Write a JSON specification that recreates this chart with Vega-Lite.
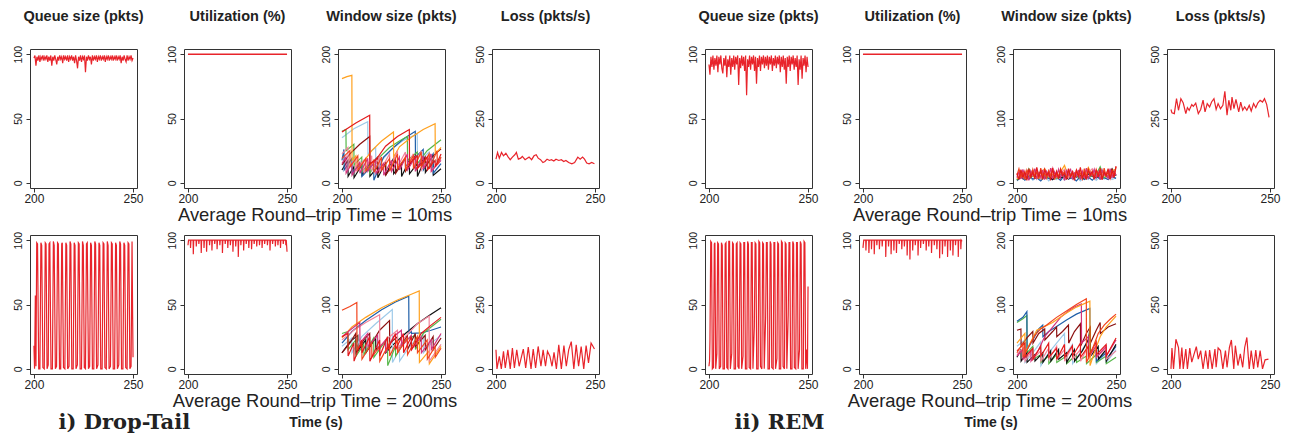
{
"$schema": "https://vega.github.io/schema/vega-lite/v6.json",
"background": "white",
"padding": {"left": 12, "top": 8, "right": 5, "bottom": 2},
"config": {
 "view": {"stroke": "#333", "strokeWidth": 1},
 "axis": {"domain": false, "grid": false, "tickSize": 4, "tickColor": "#333", "labelFont": "Liberation Sans", "labelColor": "#222", "labelFlush": false, "labelOverlap": false},
 "axisY": {"labelAngle": -90, "labelAlign": "center", "labelBaseline": "bottom", "labelPadding": 3, "labelFontSize": 10.5},
 "axisX": {"labelPadding": 1, "labelFontSize": 12},
 "title": {"font": "Liberation Sans", "fontSize": 14.5, "fontWeight": "bold", "color": "#222", "anchor": "middle"},
 "line": {"strokeWidth": 1.2, "clip": true}
},
"datasets": {
 "dt10q": [{"t":200,"v":97},{"t":200.5,"v":99},{"t":201,"v":91},{"t":201.5,"v":98},{"t":202,"v":95},{"t":202.5,"v":99},{"t":203,"v":94},{"t":203.5,"v":98},{"t":204,"v":96},{"t":204.5,"v":99},{"t":205,"v":95},{"t":205.5,"v":98},{"t":206,"v":96},{"t":206.5,"v":99},{"t":207,"v":94},{"t":207.5,"v":98},{"t":208,"v":95},{"t":208.5,"v":99},{"t":209,"v":91},{"t":209.5,"v":98},{"t":210,"v":95},{"t":210.5,"v":99},{"t":211,"v":96},{"t":211.5,"v":92},{"t":212,"v":98},{"t":212.5,"v":95},{"t":213,"v":99},{"t":213.5,"v":96},{"t":214,"v":98},{"t":214.5,"v":93},{"t":215,"v":99},{"t":215.5,"v":96},{"t":216,"v":98},{"t":216.5,"v":95},{"t":217,"v":99},{"t":217.5,"v":94},{"t":218,"v":98},{"t":218.5,"v":96},{"t":219,"v":99},{"t":219.5,"v":95},{"t":220,"v":98},{"t":220.5,"v":93},{"t":221,"v":99},{"t":221.5,"v":95},{"t":222,"v":89},{"t":222.5,"v":98},{"t":223,"v":95},{"t":223.5,"v":99},{"t":224,"v":94},{"t":224.5,"v":98},{"t":225,"v":96},{"t":225.5,"v":99},{"t":226,"v":86},{"t":226.5,"v":98},{"t":227,"v":95},{"t":227.5,"v":99},{"t":228,"v":96},{"t":228.5,"v":98},{"t":229,"v":92},{"t":229.5,"v":99},{"t":230,"v":95},{"t":230.5,"v":98},{"t":231,"v":96},{"t":231.5,"v":99},{"t":232,"v":94},{"t":232.5,"v":98},{"t":233,"v":96},{"t":233.5,"v":99},{"t":234,"v":95},{"t":234.5,"v":98},{"t":235,"v":96},{"t":235.5,"v":99},{"t":236,"v":94},{"t":236.5,"v":98},{"t":237,"v":96},{"t":237.5,"v":99},{"t":238,"v":95},{"t":238.5,"v":98},{"t":239,"v":96},{"t":239.5,"v":99},{"t":240,"v":95},{"t":240.5,"v":98},{"t":241,"v":96},{"t":241.5,"v":99},{"t":242,"v":95},{"t":242.5,"v":98},{"t":243,"v":96},{"t":243.5,"v":99},{"t":244,"v":93},{"t":244.5,"v":98},{"t":245,"v":95},{"t":245.5,"v":99},{"t":246,"v":96},{"t":246.5,"v":94},{"t":247,"v":99},{"t":247.5,"v":95},{"t":248,"v":98},{"t":248.5,"v":96},{"t":249,"v":99},{"t":249.5,"v":95},{"t":250,"v":97}],
 "dt10u": [{"t":200,"v":100},{"t":225,"v":100},{"t":250,"v":100}],
 "dt10l": [{"t":200,"v":92},{"t":200.8,"v":118},{"t":201.7,"v":96},{"t":202.8,"v":118},{"t":203.8,"v":105},{"t":205,"v":115},{"t":206.2,"v":100},{"t":207.2,"v":90},{"t":208.3,"v":100},{"t":209.5,"v":109},{"t":210.3,"v":118},{"t":211.3,"v":92},{"t":212.5,"v":96},{"t":213.3,"v":103},{"t":214.7,"v":90},{"t":215.8,"v":96},{"t":216.7,"v":100},{"t":218,"v":90},{"t":219.2,"v":105},{"t":220.3,"v":109},{"t":221.3,"v":96},{"t":222.5,"v":90},{"t":223.7,"v":79},{"t":224.7,"v":83},{"t":225.8,"v":92},{"t":227,"v":87},{"t":228,"v":90},{"t":229.2,"v":85},{"t":230.3,"v":92},{"t":231.7,"v":87},{"t":233,"v":90},{"t":234.2,"v":83},{"t":235.3,"v":87},{"t":236.7,"v":79},{"t":238.3,"v":74},{"t":239.7,"v":79},{"t":241.3,"v":100},{"t":242.5,"v":92},{"t":243.7,"v":100},{"t":244.7,"v":92},{"t":245.8,"v":77},{"t":247,"v":74},{"t":248.3,"v":79},{"t":249.7,"v":74}],
 "dt10w": [
  {"f":"f7","t":200,"v":20},{"f":"f7","t":203,"v":35},{"f":"f7","t":203.1,"v":10},{"f":"f7","t":206,"v":25},{"f":"f7","t":206.1,"v":8},{"f":"f7","t":210,"v":28},{"f":"f7","t":210.1,"v":12},{"f":"f7","t":214,"v":30},{"f":"f7","t":214.1,"v":10},{"f":"f7","t":218,"v":25},{"f":"f7","t":218.1,"v":8},{"f":"f7","t":222,"v":32},{"f":"f7","t":222.1,"v":12},{"f":"f7","t":226,"v":38},{"f":"f7","t":226.1,"v":14},{"f":"f7","t":230,"v":30},{"f":"f7","t":230.1,"v":10},{"f":"f7","t":234,"v":35},{"f":"f7","t":234.1,"v":14},{"f":"f7","t":238,"v":30},{"f":"f7","t":238.1,"v":10},{"f":"f7","t":242,"v":38},{"f":"f7","t":242.1,"v":16},{"f":"f7","t":246,"v":35},{"f":"f7","t":246.1,"v":12},{"f":"f7","t":250,"v":22},
  {"f":"f3","t":200,"v":70},{"f":"f3","t":206,"v":84},{"f":"f3","t":213,"v":95},{"f":"f3","t":213.1,"v":45},{"f":"f3","t":217,"v":55},{"f":"f3","t":217.1,"v":25},{"f":"f3","t":221,"v":38},{"f":"f3","t":225,"v":52},{"f":"f3","t":231,"v":66},{"f":"f3","t":238,"v":76},{"f":"f3","t":238.1,"v":30},{"f":"f3","t":244,"v":48},{"f":"f3","t":244.1,"v":25},{"f":"f3","t":250,"v":40},
  {"f":"f4","t":200,"v":35},{"f":"f4","t":201,"v":52},{"f":"f4","t":201.1,"v":20},{"f":"f4","t":205,"v":38},{"f":"f4","t":205.1,"v":15},{"f":"f4","t":210,"v":32},{"f":"f4","t":210.1,"v":10},{"f":"f4","t":216,"v":30},{"f":"f4","t":216.1,"v":4},{"f":"f4","t":221,"v":40},{"f":"f4","t":226,"v":55},{"f":"f4","t":231,"v":68},{"f":"f4","t":237,"v":80},{"f":"f4","t":237.1,"v":40},{"f":"f4","t":241,"v":52},{"f":"f4","t":241.1,"v":20},{"f":"f4","t":246,"v":45},{"f":"f4","t":246.1,"v":15},{"f":"f4","t":250,"v":30},
  {"f":"f5","t":200,"v":80},{"f":"f5","t":202,"v":83},{"f":"f5","t":202.1,"v":50},{"f":"f5","t":206,"v":60},{"f":"f5","t":206.1,"v":28},{"f":"f5","t":210,"v":40},{"f":"f5","t":210.1,"v":18},{"f":"f5","t":214,"v":30},{"f":"f5","t":214.1,"v":15},{"f":"f5","t":219,"v":40},{"f":"f5","t":224,"v":55},{"f":"f5","t":229,"v":65},{"f":"f5","t":233,"v":72},{"f":"f5","t":233.1,"v":35},{"f":"f5","t":238,"v":48},{"f":"f5","t":238.1,"v":30},{"f":"f5","t":243,"v":50},{"f":"f5","t":250,"v":67},
  {"f":"f6","t":200,"v":28},{"f":"f6","t":204,"v":45},{"f":"f6","t":209,"v":60},{"f":"f6","t":214,"v":72},{"f":"f6","t":214.1,"v":28},{"f":"f6","t":218,"v":40},{"f":"f6","t":218.1,"v":15},{"f":"f6","t":222,"v":32},{"f":"f6","t":222.1,"v":12},{"f":"f6","t":227,"v":35},{"f":"f6","t":227.1,"v":15},{"f":"f6","t":232,"v":38},{"f":"f6","t":232.1,"v":18},{"f":"f6","t":237,"v":42},{"f":"f6","t":237.1,"v":20},{"f":"f6","t":242,"v":40},{"f":"f6","t":242.1,"v":25},{"f":"f6","t":246,"v":42},{"f":"f6","t":250,"v":53},
  {"f":"f1","t":200,"v":162},{"f":"f1","t":202.5,"v":165},{"f":"f1","t":205,"v":167},{"f":"f1","t":205.1,"v":35},{"f":"f1","t":207,"v":42},{"f":"f1","t":207.1,"v":25},{"f":"f1","t":211,"v":33},{"f":"f1","t":215,"v":50},{"f":"f1","t":220,"v":65},{"f":"f1","t":226,"v":79},{"f":"f1","t":226.1,"v":40},{"f":"f1","t":229,"v":56},{"f":"f1","t":235,"v":71},{"f":"f1","t":241,"v":83},{"f":"f1","t":247,"v":92},{"f":"f1","t":247.1,"v":45},{"f":"f1","t":250,"v":55},
  {"f":"f8","t":200,"v":45},{"f":"f8","t":203,"v":55},{"f":"f8","t":203.1,"v":22},{"f":"f8","t":207,"v":38},{"f":"f8","t":207.1,"v":18},{"f":"f8","t":211,"v":35},{"f":"f8","t":211.1,"v":15},{"f":"f8","t":215,"v":42},{"f":"f8","t":215.1,"v":20},{"f":"f8","t":219,"v":40},{"f":"f8","t":219.1,"v":18},{"f":"f8","t":224,"v":45},{"f":"f8","t":224.1,"v":22},{"f":"f8","t":228,"v":50},{"f":"f8","t":228.1,"v":25},{"f":"f8","t":232,"v":48},{"f":"f8","t":232.1,"v":22},{"f":"f8","t":236,"v":45},{"f":"f8","t":236.1,"v":25},{"f":"f8","t":240,"v":50},{"f":"f8","t":240.1,"v":20},{"f":"f8","t":245,"v":42},{"f":"f8","t":245.1,"v":18},{"f":"f8","t":250,"v":38},
  {"f":"f9","t":200,"v":30},{"f":"f9","t":202,"v":40},{"f":"f9","t":202.1,"v":15},{"f":"f9","t":205,"v":30},{"f":"f9","t":205.1,"v":12},{"f":"f9","t":209,"v":32},{"f":"f9","t":209.1,"v":15},{"f":"f9","t":213,"v":38},{"f":"f9","t":213.1,"v":18},{"f":"f9","t":217,"v":35},{"f":"f9","t":217.1,"v":15},{"f":"f9","t":221,"v":30},{"f":"f9","t":221.1,"v":12},{"f":"f9","t":225,"v":35},{"f":"f9","t":225.1,"v":18},{"f":"f9","t":229,"v":40},{"f":"f9","t":229.1,"v":20},{"f":"f9","t":233,"v":45},{"f":"f9","t":233.1,"v":20},{"f":"f9","t":237,"v":40},{"f":"f9","t":237.1,"v":18},{"f":"f9","t":241,"v":42},{"f":"f9","t":241.1,"v":22},{"f":"f9","t":245,"v":45},{"f":"f9","t":245.1,"v":18},{"f":"f9","t":250,"v":35},
  {"f":"f10","t":200,"v":38},{"f":"f10","t":204,"v":50},{"f":"f10","t":204.1,"v":25},{"f":"f10","t":208,"v":42},{"f":"f10","t":208.1,"v":20},{"f":"f10","t":212,"v":38},{"f":"f10","t":212.1,"v":18},{"f":"f10","t":216,"v":35},{"f":"f10","t":216.1,"v":16},{"f":"f10","t":220,"v":40},{"f":"f10","t":220.1,"v":20},{"f":"f10","t":224,"v":38},{"f":"f10","t":224.1,"v":18},{"f":"f10","t":228,"v":45},{"f":"f10","t":228.1,"v":22},{"f":"f10","t":232,"v":40},{"f":"f10","t":232.1,"v":20},{"f":"f10","t":236,"v":42},{"f":"f10","t":236.1,"v":22},{"f":"f10","t":240,"v":48},{"f":"f10","t":240.1,"v":25},{"f":"f10","t":244,"v":45},{"f":"f10","t":244.1,"v":22},{"f":"f10","t":248,"v":50},{"f":"f10","t":248.1,"v":28},{"f":"f10","t":250,"v":40},
  {"f":"f2","t":200,"v":79},{"f":"f2","t":207,"v":93},{"f":"f2","t":214,"v":105},{"f":"f2","t":214.1,"v":30},{"f":"f2","t":217,"v":35},{"f":"f2","t":222,"v":57},{"f":"f2","t":228,"v":72},{"f":"f2","t":234,"v":83},{"f":"f2","t":234.1,"v":30},{"f":"f2","t":238,"v":42},{"f":"f2","t":238.1,"v":22},{"f":"f2","t":243,"v":40},{"f":"f2","t":243.1,"v":20},{"f":"f2","t":247,"v":35},{"f":"f2","t":247.1,"v":25},{"f":"f2","t":250,"v":45}
 ],
 "rem10q": [{"t":200,"v":92},{"t":200.5,"v":84},{"t":201,"v":98},{"t":201.5,"v":90},{"t":202,"v":99},{"t":202.5,"v":88},{"t":203,"v":97},{"t":203.5,"v":91},{"t":204,"v":99},{"t":204.5,"v":86},{"t":205,"v":98},{"t":205.5,"v":92},{"t":206,"v":99},{"t":206.5,"v":89},{"t":207,"v":85},{"t":207.5,"v":97},{"t":208,"v":91},{"t":208.5,"v":99},{"t":209,"v":82},{"t":209.5,"v":96},{"t":210,"v":90},{"t":210.5,"v":99},{"t":211,"v":84},{"t":211.5,"v":97},{"t":212,"v":90},{"t":212.5,"v":99},{"t":213,"v":88},{"t":213.5,"v":98},{"t":214,"v":92},{"t":214.5,"v":99},{"t":215,"v":76},{"t":215.5,"v":97},{"t":216,"v":89},{"t":216.5,"v":99},{"t":217,"v":91},{"t":217.5,"v":98},{"t":218,"v":87},{"t":218.5,"v":99},{"t":219,"v":68},{"t":219.5,"v":96},{"t":220,"v":90},{"t":220.5,"v":99},{"t":221,"v":88},{"t":221.5,"v":98},{"t":222,"v":92},{"t":222.5,"v":99},{"t":223,"v":87},{"t":223.5,"v":98},{"t":224,"v":77},{"t":224.5,"v":97},{"t":225,"v":90},{"t":225.5,"v":99},{"t":226,"v":87},{"t":226.5,"v":98},{"t":227,"v":92},{"t":227.5,"v":99},{"t":228,"v":89},{"t":228.5,"v":98},{"t":229,"v":91},{"t":229.5,"v":99},{"t":230,"v":88},{"t":230.5,"v":98},{"t":231,"v":92},{"t":231.5,"v":99},{"t":232,"v":87},{"t":232.5,"v":97},{"t":233,"v":91},{"t":233.5,"v":99},{"t":234,"v":89},{"t":234.5,"v":98},{"t":235,"v":92},{"t":235.5,"v":99},{"t":236,"v":86},{"t":236.5,"v":98},{"t":237,"v":90},{"t":237.5,"v":99},{"t":238,"v":88},{"t":238.5,"v":97},{"t":239,"v":77},{"t":239.5,"v":98},{"t":240,"v":90},{"t":240.5,"v":99},{"t":241,"v":87},{"t":241.5,"v":98},{"t":242,"v":92},{"t":242.5,"v":99},{"t":243,"v":88},{"t":243.5,"v":97},{"t":244,"v":90},{"t":244.5,"v":99},{"t":245,"v":76},{"t":245.5,"v":96},{"t":246,"v":88},{"t":246.5,"v":99},{"t":247,"v":81},{"t":247.5,"v":97},{"t":248,"v":91},{"t":248.5,"v":99},{"t":249,"v":86},{"t":249.5,"v":98},{"t":250,"v":90}],
 "rem10u": [{"t":200,"v":100},{"t":225,"v":100},{"t":250,"v":100}],
 "rem10l": [{"t":200,"v":285},{"t":200.5,"v":272},{"t":201.7,"v":269},{"t":202.8,"v":327},{"t":203.8,"v":282},{"t":205,"v":327},{"t":206.2,"v":310},{"t":207.5,"v":269},{"t":208.3,"v":292},{"t":209.2,"v":282},{"t":210.5,"v":304},{"t":211.3,"v":297},{"t":212.5,"v":310},{"t":213.8,"v":269},{"t":215,"v":285},{"t":216.2,"v":321},{"t":217.2,"v":276},{"t":218.3,"v":308},{"t":219.5,"v":295},{"t":220.5,"v":314},{"t":221.7,"v":327},{"t":222.8,"v":285},{"t":223.8,"v":308},{"t":225,"v":288},{"t":226.2,"v":301},{"t":227.2,"v":356},{"t":228.3,"v":263},{"t":229.2,"v":321},{"t":230.2,"v":282},{"t":230.8,"v":333},{"t":231.8,"v":288},{"t":232.8,"v":324},{"t":234.2,"v":276},{"t":235.2,"v":314},{"t":236.2,"v":282},{"t":237.2,"v":295},{"t":238.3,"v":282},{"t":239.5,"v":301},{"t":240.5,"v":279},{"t":241.7,"v":308},{"t":242.8,"v":292},{"t":243.8,"v":310},{"t":245,"v":321},{"t":246.2,"v":314},{"t":247.2,"v":327},{"t":248.3,"v":305},{"t":249.5,"v":254}],
 "rem10w": [
  {"f":"f3","t":200,"v":3},{"f":"f3","t":202,"v":8},{"f":"f3","t":204,"v":5},{"f":"f3","t":206,"v":10},{"f":"f3","t":208,"v":4},{"f":"f3","t":210,"v":9},{"f":"f3","t":212,"v":6},{"f":"f3","t":214,"v":12},{"f":"f3","t":216,"v":3},{"f":"f3","t":218,"v":8},{"f":"f3","t":220,"v":5},{"f":"f3","t":222,"v":11},{"f":"f3","t":224,"v":4},{"f":"f3","t":226,"v":9},{"f":"f3","t":228,"v":6},{"f":"f3","t":230,"v":10},{"f":"f3","t":232,"v":3},{"f":"f3","t":234,"v":8},{"f":"f3","t":236,"v":5},{"f":"f3","t":238,"v":12},{"f":"f3","t":240,"v":4},{"f":"f3","t":242,"v":9},{"f":"f3","t":244,"v":6},{"f":"f3","t":246,"v":10},{"f":"f3","t":248,"v":5},{"f":"f3","t":250,"v":8},
  {"f":"f4","t":200,"v":5},{"f":"f4","t":202,"v":9},{"f":"f4","t":204,"v":4},{"f":"f4","t":206,"v":11},{"f":"f4","t":208,"v":6},{"f":"f4","t":210,"v":8},{"f":"f4","t":212,"v":3},{"f":"f4","t":214,"v":10},{"f":"f4","t":216,"v":7},{"f":"f4","t":218,"v":5},{"f":"f4","t":220,"v":9},{"f":"f4","t":222,"v":4},{"f":"f4","t":224,"v":12},{"f":"f4","t":226,"v":6},{"f":"f4","t":228,"v":8},{"f":"f4","t":230,"v":3},{"f":"f4","t":232,"v":10},{"f":"f4","t":234,"v":5},{"f":"f4","t":236,"v":9},{"f":"f4","t":238,"v":4},{"f":"f4","t":240,"v":11},{"f":"f4","t":242,"v":6},{"f":"f4","t":244,"v":8},{"f":"f4","t":246,"v":5},{"f":"f4","t":248,"v":10},{"f":"f4","t":250,"v":7},
  {"f":"f7","t":200,"v":4},{"f":"f7","t":202,"v":10},{"f":"f7","t":204,"v":14},{"f":"f7","t":206,"v":6},{"f":"f7","t":208,"v":12},{"f":"f7","t":210,"v":9},{"f":"f7","t":212,"v":18},{"f":"f7","t":214,"v":7},{"f":"f7","t":216,"v":11},{"f":"f7","t":218,"v":5},{"f":"f7","t":220,"v":13},{"f":"f7","t":222,"v":8},{"f":"f7","t":224,"v":10},{"f":"f7","t":226,"v":6},{"f":"f7","t":228,"v":15},{"f":"f7","t":230,"v":9},{"f":"f7","t":232,"v":12},{"f":"f7","t":234,"v":7},{"f":"f7","t":236,"v":14},{"f":"f7","t":238,"v":10},{"f":"f7","t":240,"v":8},{"f":"f7","t":242,"v":13},{"f":"f7","t":244,"v":16},{"f":"f7","t":246,"v":9},{"f":"f7","t":248,"v":22},{"f":"f7","t":250,"v":11},
  {"f":"f5","t":200,"v":5},{"f":"f5","t":202,"v":12},{"f":"f5","t":204,"v":8},{"f":"f5","t":206,"v":22},{"f":"f5","t":208,"v":10},{"f":"f5","t":210,"v":15},{"f":"f5","t":212,"v":6},{"f":"f5","t":214,"v":11},{"f":"f5","t":216,"v":9},{"f":"f5","t":218,"v":13},{"f":"f5","t":220,"v":7},{"f":"f5","t":222,"v":14},{"f":"f5","t":224,"v":8},{"f":"f5","t":226,"v":18},{"f":"f5","t":228,"v":10},{"f":"f5","t":230,"v":12},{"f":"f5","t":232,"v":6},{"f":"f5","t":234,"v":15},{"f":"f5","t":236,"v":9},{"f":"f5","t":238,"v":11},{"f":"f5","t":240,"v":13},{"f":"f5","t":242,"v":25},{"f":"f5","t":244,"v":8},{"f":"f5","t":246,"v":12},{"f":"f5","t":248,"v":10},{"f":"f5","t":250,"v":14},
  {"f":"f1","t":200,"v":6},{"f":"f1","t":202,"v":14},{"f":"f1","t":204,"v":9},{"f":"f1","t":206,"v":18},{"f":"f1","t":208,"v":11},{"f":"f1","t":210,"v":7},{"f":"f1","t":212,"v":16},{"f":"f1","t":214,"v":22},{"f":"f1","t":216,"v":10},{"f":"f1","t":218,"v":13},{"f":"f1","t":220,"v":8},{"f":"f1","t":222,"v":17},{"f":"f1","t":224,"v":27},{"f":"f1","t":226,"v":9},{"f":"f1","t":228,"v":14},{"f":"f1","t":230,"v":11},{"f":"f1","t":232,"v":19},{"f":"f1","t":234,"v":8},{"f":"f1","t":236,"v":24},{"f":"f1","t":238,"v":12},{"f":"f1","t":240,"v":9},{"f":"f1","t":242,"v":16},{"f":"f1","t":244,"v":13},{"f":"f1","t":246,"v":10},{"f":"f1","t":248,"v":18},{"f":"f1","t":250,"v":22},
  {"f":"f8","t":200,"v":10},{"f":"f8","t":202,"v":20},{"f":"f8","t":204,"v":8},{"f":"f8","t":206,"v":17},{"f":"f8","t":208,"v":12},{"f":"f8","t":210,"v":22},{"f":"f8","t":212,"v":6},{"f":"f8","t":214,"v":19},{"f":"f8","t":216,"v":11},{"f":"f8","t":218,"v":24},{"f":"f8","t":220,"v":9},{"f":"f8","t":222,"v":15},{"f":"f8","t":224,"v":21},{"f":"f8","t":226,"v":7},{"f":"f8","t":228,"v":18},{"f":"f8","t":230,"v":13},{"f":"f8","t":232,"v":20},{"f":"f8","t":234,"v":8},{"f":"f8","t":236,"v":16},{"f":"f8","t":238,"v":22},{"f":"f8","t":240,"v":10},{"f":"f8","t":242,"v":17},{"f":"f8","t":244,"v":12},{"f":"f8","t":246,"v":19},{"f":"f8","t":248,"v":9},{"f":"f8","t":250,"v":14},
  {"f":"f9","t":200,"v":8},{"f":"f9","t":201,"v":18},{"f":"f9","t":202,"v":6},{"f":"f9","t":203,"v":21},{"f":"f9","t":204,"v":10},{"f":"f9","t":205,"v":16},{"f":"f9","t":206,"v":4},{"f":"f9","t":207,"v":19},{"f":"f9","t":208,"v":12},{"f":"f9","t":209,"v":22},{"f":"f9","t":210,"v":7},{"f":"f9","t":211,"v":15},{"f":"f9","t":212,"v":9},{"f":"f9","t":213,"v":20},{"f":"f9","t":214,"v":5},{"f":"f9","t":215,"v":18},{"f":"f9","t":216,"v":11},{"f":"f9","t":217,"v":23},{"f":"f9","t":218,"v":6},{"f":"f9","t":219,"v":17},{"f":"f9","t":220,"v":10},{"f":"f9","t":221,"v":21},{"f":"f9","t":222,"v":8},{"f":"f9","t":223,"v":16},{"f":"f9","t":224,"v":4},{"f":"f9","t":225,"v":19},{"f":"f9","t":226,"v":12},{"f":"f9","t":227,"v":22},{"f":"f9","t":228,"v":7},{"f":"f9","t":229,"v":15},{"f":"f9","t":230,"v":10},{"f":"f9","t":231,"v":20},{"f":"f9","t":232,"v":5},{"f":"f9","t":233,"v":18},{"f":"f9","t":234,"v":9},{"f":"f9","t":235,"v":23},{"f":"f9","t":236,"v":6},{"f":"f9","t":237,"v":16},{"f":"f9","t":238,"v":11},{"f":"f9","t":239,"v":21},{"f":"f9","t":240,"v":8},{"f":"f9","t":241,"v":17},{"f":"f9","t":242,"v":5},{"f":"f9","t":243,"v":20},{"f":"f9","t":244,"v":12},{"f":"f9","t":245,"v":15},{"f":"f9","t":246,"v":7},{"f":"f9","t":247,"v":22},{"f":"f9","t":248,"v":9},{"f":"f9","t":249,"v":18},{"f":"f9","t":250,"v":12},
  {"f":"f10","t":200,"v":12},{"f":"f10","t":201,"v":22},{"f":"f10","t":202,"v":9},{"f":"f10","t":203,"v":16},{"f":"f10","t":204,"v":5},{"f":"f10","t":205,"v":20},{"f":"f10","t":206,"v":13},{"f":"f10","t":207,"v":8},{"f":"f10","t":208,"v":21},{"f":"f10","t":209,"v":11},{"f":"f10","t":210,"v":17},{"f":"f10","t":211,"v":6},{"f":"f10","t":212,"v":23},{"f":"f10","t":213,"v":10},{"f":"f10","t":214,"v":15},{"f":"f10","t":215,"v":7},{"f":"f10","t":216,"v":19},{"f":"f10","t":217,"v":12},{"f":"f10","t":218,"v":20},{"f":"f10","t":219,"v":5},{"f":"f10","t":220,"v":16},{"f":"f10","t":221,"v":9},{"f":"f10","t":222,"v":22},{"f":"f10","t":223,"v":13},{"f":"f10","t":224,"v":18},{"f":"f10","t":225,"v":6},{"f":"f10","t":226,"v":21},{"f":"f10","t":227,"v":10},{"f":"f10","t":228,"v":17},{"f":"f10","t":229,"v":8},{"f":"f10","t":230,"v":20},{"f":"f10","t":231,"v":12},{"f":"f10","t":232,"v":15},{"f":"f10","t":233,"v":6},{"f":"f10","t":234,"v":22},{"f":"f10","t":235,"v":9},{"f":"f10","t":236,"v":19},{"f":"f10","t":237,"v":11},{"f":"f10","t":238,"v":16},{"f":"f10","t":239,"v":7},{"f":"f10","t":240,"v":21},{"f":"f10","t":241,"v":13},{"f":"f10","t":242,"v":18},{"f":"f10","t":243,"v":5},{"f":"f10","t":244,"v":23},{"f":"f10","t":245,"v":10},{"f":"f10","t":246,"v":17},{"f":"f10","t":247,"v":7},{"f":"f10","t":248,"v":20},{"f":"f10","t":249,"v":12},{"f":"f10","t":250,"v":25},
  {"f":"f2","t":200,"v":15},{"f":"f2","t":201,"v":5},{"f":"f2","t":202,"v":20},{"f":"f2","t":203,"v":8},{"f":"f2","t":204,"v":18},{"f":"f2","t":205,"v":4},{"f":"f2","t":206,"v":22},{"f":"f2","t":207,"v":10},{"f":"f2","t":208,"v":17},{"f":"f2","t":209,"v":6},{"f":"f2","t":210,"v":24},{"f":"f2","t":211,"v":9},{"f":"f2","t":212,"v":19},{"f":"f2","t":213,"v":5},{"f":"f2","t":214,"v":21},{"f":"f2","t":215,"v":12},{"f":"f2","t":216,"v":16},{"f":"f2","t":217,"v":4},{"f":"f2","t":218,"v":23},{"f":"f2","t":219,"v":8},{"f":"f2","t":220,"v":18},{"f":"f2","t":221,"v":6},{"f":"f2","t":222,"v":20},{"f":"f2","t":223,"v":11},{"f":"f2","t":224,"v":15},{"f":"f2","t":225,"v":5},{"f":"f2","t":226,"v":22},{"f":"f2","t":227,"v":9},{"f":"f2","t":228,"v":17},{"f":"f2","t":229,"v":4},{"f":"f2","t":230,"v":19},{"f":"f2","t":231,"v":10},{"f":"f2","t":232,"v":24},{"f":"f2","t":233,"v":7},{"f":"f2","t":234,"v":16},{"f":"f2","t":235,"v":5},{"f":"f2","t":236,"v":21},{"f":"f2","t":237,"v":12},{"f":"f2","t":238,"v":18},{"f":"f2","t":239,"v":6},{"f":"f2","t":240,"v":20},{"f":"f2","t":241,"v":9},{"f":"f2","t":242,"v":23},{"f":"f2","t":243,"v":5},{"f":"f2","t":244,"v":17},{"f":"f2","t":245,"v":11},{"f":"f2","t":246,"v":22},{"f":"f2","t":247,"v":6},{"f":"f2","t":248,"v":19},{"f":"f2","t":249,"v":8},{"f":"f2","t":250,"v":26}
 ],
 "dt200q": [{"t":200,"v":18},{"t":200.3,"v":0},{"t":200.7,"v":57},{"t":201,"v":2},{"t":201.4,"v":98},{"t":201.8,"v":97},{"t":202.4,"v":0},{"t":203,"v":0},{"t":203.5,"v":98},{"t":203.9,"v":96},{"t":204.5,"v":1},{"t":205.2,"v":0},{"t":205.7,"v":98},{"t":206.1,"v":97},{"t":206.6,"v":0},{"t":207.2,"v":3},{"t":207.6,"v":97},{"t":208,"v":98},{"t":208.6,"v":0},{"t":209.3,"v":0},{"t":209.8,"v":99},{"t":210.2,"v":96},{"t":210.8,"v":0},{"t":211.4,"v":2},{"t":211.9,"v":98},{"t":212.3,"v":97},{"t":212.9,"v":0},{"t":213.5,"v":0},{"t":214,"v":97},{"t":214.3,"v":98},{"t":214.9,"v":1},{"t":215.6,"v":0},{"t":216.1,"v":98},{"t":216.5,"v":96},{"t":217,"v":0},{"t":217.7,"v":2},{"t":218.2,"v":99},{"t":218.6,"v":97},{"t":219.1,"v":0},{"t":219.8,"v":0},{"t":220.3,"v":98},{"t":220.7,"v":96},{"t":221.2,"v":0},{"t":221.9,"v":3},{"t":222.4,"v":98},{"t":222.8,"v":97},{"t":223.3,"v":0},{"t":224,"v":0},{"t":224.5,"v":99},{"t":224.9,"v":96},{"t":225.4,"v":1},{"t":226,"v":0},{"t":226.5,"v":97},{"t":226.9,"v":98},{"t":227.5,"v":0},{"t":228.1,"v":2},{"t":228.6,"v":98},{"t":229,"v":96},{"t":229.5,"v":0},{"t":230.2,"v":0},{"t":230.7,"v":99},{"t":231.1,"v":97},{"t":231.6,"v":0},{"t":232.3,"v":3},{"t":232.8,"v":98},{"t":233.2,"v":96},{"t":233.7,"v":0},{"t":234.4,"v":0},{"t":234.9,"v":98},{"t":235.3,"v":97},{"t":235.8,"v":1},{"t":236.5,"v":0},{"t":237,"v":99},{"t":237.4,"v":96},{"t":237.9,"v":0},{"t":238.6,"v":2},{"t":239.1,"v":98},{"t":239.5,"v":97},{"t":240,"v":0},{"t":240.7,"v":0},{"t":241.2,"v":98},{"t":241.6,"v":96},{"t":242.1,"v":0},{"t":242.8,"v":3},{"t":243.3,"v":99},{"t":243.7,"v":97},{"t":244.2,"v":0},{"t":244.9,"v":0},{"t":245.4,"v":98},{"t":245.8,"v":96},{"t":246.3,"v":1},{"t":247,"v":0},{"t":247.5,"v":98},{"t":247.9,"v":97},{"t":248.4,"v":0},{"t":249,"v":2},{"t":249.5,"v":99},{"t":249.8,"v":40},{"t":250,"v":9}],
 "dt200u": [{"t":200,"v":96},{"t":200.3,"v":100},{"t":201.2,"v":100},{"t":201.3,"v":94},{"t":201.5,"v":100},{"t":202.6,"v":100},{"t":202.7,"v":89},{"t":202.9,"v":100},{"t":204.1,"v":100},{"t":204.2,"v":95},{"t":204.4,"v":100},{"t":205.4,"v":100},{"t":205.5,"v":97},{"t":205.7,"v":100},{"t":206.6,"v":100},{"t":206.7,"v":90},{"t":206.9,"v":100},{"t":208,"v":100},{"t":208.1,"v":94},{"t":208.3,"v":100},{"t":209.3,"v":100},{"t":209.4,"v":91},{"t":209.6,"v":100},{"t":210.8,"v":100},{"t":210.9,"v":96},{"t":211.1,"v":100},{"t":212,"v":100},{"t":212.1,"v":92},{"t":212.3,"v":100},{"t":213.4,"v":100},{"t":213.5,"v":97},{"t":213.7,"v":100},{"t":214.6,"v":100},{"t":214.7,"v":93},{"t":214.9,"v":100},{"t":216,"v":100},{"t":216.1,"v":96},{"t":216.3,"v":100},{"t":217.3,"v":100},{"t":217.4,"v":90},{"t":217.6,"v":100},{"t":218.7,"v":100},{"t":218.8,"v":97},{"t":219,"v":100},{"t":220,"v":100},{"t":220.1,"v":94},{"t":220.3,"v":100},{"t":221.3,"v":100},{"t":221.4,"v":96},{"t":221.6,"v":100},{"t":222.6,"v":100},{"t":222.7,"v":91},{"t":222.9,"v":100},{"t":224,"v":100},{"t":224.1,"v":95},{"t":224.3,"v":100},{"t":225.3,"v":100},{"t":225.4,"v":87},{"t":225.6,"v":100},{"t":226.6,"v":100},{"t":226.7,"v":96},{"t":226.9,"v":100},{"t":228,"v":100},{"t":228.1,"v":92},{"t":228.3,"v":100},{"t":229.3,"v":100},{"t":229.4,"v":97},{"t":229.6,"v":100},{"t":230.6,"v":100},{"t":230.7,"v":94},{"t":230.9,"v":100},{"t":232,"v":100},{"t":232.1,"v":93},{"t":232.3,"v":100},{"t":233.3,"v":100},{"t":233.4,"v":97},{"t":233.6,"v":100},{"t":234.6,"v":100},{"t":234.7,"v":95},{"t":234.9,"v":100},{"t":236,"v":100},{"t":236.1,"v":96},{"t":236.3,"v":100},{"t":237.3,"v":100},{"t":237.4,"v":94},{"t":237.6,"v":100},{"t":238.6,"v":100},{"t":238.7,"v":97},{"t":238.9,"v":100},{"t":240,"v":100},{"t":240.1,"v":96},{"t":240.3,"v":100},{"t":241.3,"v":100},{"t":241.4,"v":92},{"t":241.6,"v":100},{"t":242.6,"v":100},{"t":242.7,"v":97},{"t":242.9,"v":100},{"t":244,"v":100},{"t":244.1,"v":95},{"t":244.3,"v":100},{"t":245.3,"v":100},{"t":245.4,"v":96},{"t":245.6,"v":100},{"t":246.6,"v":100},{"t":246.7,"v":94},{"t":246.9,"v":100},{"t":248,"v":100},{"t":248.1,"v":97},{"t":248.3,"v":100},{"t":249.3,"v":100},{"t":249.4,"v":96},{"t":249.6,"v":100},{"t":250,"v":91}],
 "dt200l": [{"t":200,"v":74},{"t":200.5,"v":0},{"t":201.7,"v":49},{"t":202.7,"v":0},{"t":203.8,"v":68},{"t":204.7,"v":4},{"t":206,"v":74},{"t":207.2,"v":0},{"t":208.3,"v":81},{"t":209.3,"v":4},{"t":210.5,"v":74},{"t":211.7,"v":10},{"t":212.7,"v":42},{"t":213.8,"v":77},{"t":215,"v":4},{"t":216.3,"v":85},{"t":217.7,"v":0},{"t":218.8,"v":77},{"t":220,"v":4},{"t":221.3,"v":87},{"t":222.7,"v":10},{"t":223.8,"v":74},{"t":225,"v":10},{"t":226,"v":68},{"t":227.2,"v":49},{"t":228.3,"v":10},{"t":229.3,"v":64},{"t":230.5,"v":0},{"t":231.7,"v":93},{"t":233,"v":0},{"t":234.3,"v":90},{"t":235.5,"v":10},{"t":236.7,"v":74},{"t":238,"v":106},{"t":239.3,"v":0},{"t":240.5,"v":93},{"t":241.7,"v":10},{"t":243,"v":87},{"t":244.3,"v":0},{"t":245.5,"v":90},{"t":246.7,"v":23},{"t":248,"v":100},{"t":249,"v":87},{"t":249.7,"v":77}],
 "dt200w": [
  {"f":"f7","t":200,"v":25},{"f":"f7","t":204,"v":42},{"f":"f7","t":208,"v":52},{"f":"f7","t":208.1,"v":28},{"f":"f7","t":212,"v":45},{"f":"f7","t":212.1,"v":25},{"f":"f7","t":217,"v":48},{"f":"f7","t":217.1,"v":30},{"f":"f7","t":222,"v":42},{"f":"f7","t":222.1,"v":25},{"f":"f7","t":226,"v":38},{"f":"f7","t":232,"v":55},{"f":"f7","t":238,"v":70},{"f":"f7","t":244,"v":83},{"f":"f7","t":250,"v":95},
  {"f":"f3","t":200,"v":35},{"f":"f3","t":205,"v":48},{"f":"f3","t":205.1,"v":25},{"f":"f3","t":210,"v":50},{"f":"f3","t":217,"v":70},{"f":"f3","t":225.4,"v":92},{"f":"f3","t":225.5,"v":10},{"f":"f3","t":229,"v":30},{"f":"f3","t":229.1,"v":12},{"f":"f3","t":233,"v":30},{"f":"f3","t":237,"v":45},{"f":"f3","t":241,"v":52},{"f":"f3","t":241.1,"v":25},{"f":"f3","t":245,"v":40},{"f":"f3","t":250,"v":52},
  {"f":"f4","t":200,"v":40},{"f":"f4","t":205,"v":58},{"f":"f4","t":212,"v":75},{"f":"f4","t":220,"v":92},{"f":"f4","t":227,"v":104},{"f":"f4","t":233.7,"v":113},{"f":"f4","t":233.8,"v":55},{"f":"f4","t":235,"v":58},{"f":"f4","t":235.1,"v":55},{"f":"f4","t":240,"v":56},{"f":"f4","t":245,"v":60},{"f":"f4","t":250,"v":65},
  {"f":"f5","t":200,"v":55},{"f":"f5","t":203,"v":58},{"f":"f5","t":203.1,"v":30},{"f":"f5","t":207,"v":45},{"f":"f5","t":207.1,"v":20},{"f":"f5","t":211,"v":38},{"f":"f5","t":211.1,"v":22},{"f":"f5","t":216,"v":48},{"f":"f5","t":216.1,"v":18},{"f":"f5","t":223,"v":48},{"f":"f5","t":223.1,"v":5},{"f":"f5","t":227,"v":35},{"f":"f5","t":227.1,"v":20},{"f":"f5","t":232,"v":45},{"f":"f5","t":237,"v":52},{"f":"f5","t":237.1,"v":30},{"f":"f5","t":241,"v":55},{"f":"f5","t":245,"v":65},{"f":"f5","t":250,"v":77},
  {"f":"f6","t":200,"v":25},{"f":"f6","t":204,"v":40},{"f":"f6","t":207,"v":55},{"f":"f6","t":207.1,"v":25},{"f":"f6","t":211,"v":45},{"f":"f6","t":214,"v":55},{"f":"f6","t":214.1,"v":35},{"f":"f6","t":219,"v":60},{"f":"f6","t":224,"v":75},{"f":"f6","t":224.1,"v":40},{"f":"f6","t":228,"v":50},{"f":"f6","t":228.1,"v":30},{"f":"f6","t":233,"v":52},{"f":"f6","t":233.1,"v":30},{"f":"f6","t":237,"v":55},{"f":"f6","t":237.1,"v":35},{"f":"f6","t":242,"v":52},{"f":"f6","t":242.1,"v":30},{"f":"f6","t":246,"v":50},{"f":"f6","t":246.1,"v":30},{"f":"f6","t":250,"v":48},
  {"f":"f1","t":200,"v":48},{"f":"f1","t":205,"v":65},{"f":"f1","t":212,"v":80},{"f":"f1","t":220,"v":95},{"f":"f1","t":228,"v":107},{"f":"f1","t":235,"v":116},{"f":"f1","t":239,"v":121},{"f":"f1","t":239.1,"v":10},{"f":"f1","t":244,"v":28},{"f":"f1","t":244.1,"v":8},{"f":"f1","t":250,"v":35},
  {"f":"f8","t":200,"v":45},{"f":"f8","t":206,"v":60},{"f":"f8","t":212,"v":72},{"f":"f8","t":219,"v":84},{"f":"f8","t":219.1,"v":35},{"f":"f8","t":224,"v":50},{"f":"f8","t":228,"v":60},{"f":"f8","t":228.1,"v":30},{"f":"f8","t":232,"v":50},{"f":"f8","t":238,"v":70},{"f":"f8","t":244,"v":82},{"f":"f8","t":244.1,"v":12},{"f":"f8","t":247,"v":25},{"f":"f8","t":250,"v":38},
  {"f":"f9","t":200,"v":50},{"f":"f9","t":204,"v":60},{"f":"f9","t":209,"v":72},{"f":"f9","t":209.1,"v":40},{"f":"f9","t":213,"v":55},{"f":"f9","t":213.1,"v":35},{"f":"f9","t":218,"v":52},{"f":"f9","t":218.1,"v":30},{"f":"f9","t":222,"v":45},{"f":"f9","t":222.1,"v":25},{"f":"f9","t":226,"v":50},{"f":"f9","t":230,"v":60},{"f":"f9","t":230.1,"v":35},{"f":"f9","t":235,"v":52},{"f":"f9","t":235.1,"v":30},{"f":"f9","t":240,"v":50},{"f":"f9","t":240.1,"v":25},{"f":"f9","t":245,"v":45},{"f":"f9","t":245.1,"v":30},{"f":"f9","t":250,"v":55},
  {"f":"f10","t":200,"v":91},{"f":"f10","t":204,"v":97},{"f":"f10","t":207.5,"v":103},{"f":"f10","t":207.6,"v":30},{"f":"f10","t":210,"v":40},{"f":"f10","t":210.1,"v":15},{"f":"f10","t":215,"v":40},{"f":"f10","t":215.1,"v":18},{"f":"f10","t":219,"v":35},{"f":"f10","t":219.1,"v":12},{"f":"f10","t":224,"v":40},{"f":"f10","t":224.1,"v":20},{"f":"f10","t":228,"v":45},{"f":"f10","t":228.1,"v":25},{"f":"f10","t":233,"v":48},{"f":"f10","t":233.1,"v":22},{"f":"f10","t":238,"v":50},{"f":"f10","t":238.1,"v":25},{"f":"f10","t":243,"v":45},{"f":"f10","t":243.1,"v":15},{"f":"f10","t":247,"v":35},{"f":"f10","t":247.1,"v":18},{"f":"f10","t":250,"v":32},
  {"f":"f2","t":200,"v":50},{"f":"f2","t":203,"v":55},{"f":"f2","t":203.1,"v":20},{"f":"f2","t":206,"v":40},{"f":"f2","t":206.1,"v":12},{"f":"f2","t":210,"v":45},{"f":"f2","t":210.1,"v":25},{"f":"f2","t":214,"v":50},{"f":"f2","t":214.1,"v":12},{"f":"f2","t":219,"v":45},{"f":"f2","t":219.1,"v":20},{"f":"f2","t":223,"v":50},{"f":"f2","t":223.1,"v":30},{"f":"f2","t":227,"v":55},{"f":"f2","t":227.1,"v":30},{"f":"f2","t":231,"v":55},{"f":"f2","t":231.1,"v":25},{"f":"f2","t":235,"v":50},{"f":"f2","t":235.1,"v":30},{"f":"f2","t":240,"v":55},{"f":"f2","t":245,"v":68},{"f":"f2","t":250,"v":80}
 ],
 "rem200q": [{"t":200,"v":2},{"t":200.3,"v":6},{"t":200.5,"v":22},{"t":200.9,"v":99},{"t":201.3,"v":98},{"t":201.7,"v":0},{"t":202.3,"v":1},{"t":202.7,"v":97},{"t":203,"v":98},{"t":203.4,"v":0},{"t":204,"v":12},{"t":204.4,"v":98},{"t":204.8,"v":97},{"t":205.2,"v":0},{"t":205.9,"v":2},{"t":206.3,"v":98},{"t":206.7,"v":96},{"t":207.1,"v":0},{"t":207.8,"v":0},{"t":208.2,"v":97},{"t":208.6,"v":98},{"t":209,"v":1},{"t":209.6,"v":0},{"t":210,"v":99},{"t":210.4,"v":99},{"t":210.8,"v":0},{"t":211.5,"v":12},{"t":211.9,"v":98},{"t":212.3,"v":97},{"t":212.7,"v":0},{"t":213.4,"v":0},{"t":213.8,"v":97},{"t":214.2,"v":98},{"t":214.6,"v":2},{"t":215.2,"v":0},{"t":215.7,"v":98},{"t":216.1,"v":97},{"t":216.5,"v":0},{"t":217.2,"v":10},{"t":217.6,"v":98},{"t":218,"v":98},{"t":218.4,"v":0},{"t":219.1,"v":0},{"t":219.5,"v":99},{"t":219.9,"v":97},{"t":220.3,"v":1},{"t":221,"v":0},{"t":221.4,"v":98},{"t":221.8,"v":98},{"t":222.2,"v":0},{"t":222.9,"v":33},{"t":223.3,"v":98},{"t":223.7,"v":97},{"t":224.1,"v":0},{"t":224.8,"v":0},{"t":225.2,"v":99},{"t":225.6,"v":98},{"t":226,"v":2},{"t":226.7,"v":0},{"t":227.1,"v":98},{"t":227.5,"v":97},{"t":227.9,"v":0},{"t":228.6,"v":40},{"t":229,"v":98},{"t":229.4,"v":98},{"t":229.8,"v":0},{"t":230.5,"v":0},{"t":230.9,"v":99},{"t":231.3,"v":97},{"t":231.7,"v":1},{"t":232.4,"v":0},{"t":232.8,"v":98},{"t":233.2,"v":98},{"t":233.6,"v":0},{"t":234.3,"v":8},{"t":234.7,"v":98},{"t":235.1,"v":97},{"t":235.5,"v":0},{"t":236.2,"v":0},{"t":236.6,"v":99},{"t":237,"v":98},{"t":237.4,"v":2},{"t":238.1,"v":0},{"t":238.5,"v":98},{"t":238.9,"v":97},{"t":239.3,"v":0},{"t":240,"v":42},{"t":240.4,"v":98},{"t":240.8,"v":98},{"t":241.2,"v":0},{"t":241.9,"v":0},{"t":242.3,"v":99},{"t":242.7,"v":97},{"t":243.1,"v":1},{"t":243.8,"v":0},{"t":244.2,"v":98},{"t":244.6,"v":98},{"t":245,"v":0},{"t":245.7,"v":15},{"t":246.1,"v":99},{"t":246.5,"v":97},{"t":246.9,"v":0},{"t":247.6,"v":0},{"t":248,"v":99},{"t":248.4,"v":98},{"t":248.8,"v":0},{"t":249.3,"v":15},{"t":249.7,"v":0},{"t":250,"v":64}],
 "rem200u": [{"t":200,"v":94},{"t":200.4,"v":100},{"t":201.4,"v":100},{"t":201.5,"v":92},{"t":201.7,"v":100},{"t":202.9,"v":100},{"t":203,"v":90},{"t":203.2,"v":100},{"t":204.2,"v":100},{"t":204.3,"v":93},{"t":204.5,"v":100},{"t":205.6,"v":100},{"t":205.7,"v":89},{"t":205.9,"v":100},{"t":206.9,"v":100},{"t":207,"v":96},{"t":207.2,"v":100},{"t":208.2,"v":100},{"t":208.3,"v":93},{"t":208.5,"v":100},{"t":209.6,"v":100},{"t":209.7,"v":95},{"t":209.9,"v":100},{"t":211.4,"v":100},{"t":211.5,"v":87},{"t":211.7,"v":100},{"t":212.8,"v":100},{"t":212.9,"v":95},{"t":213.1,"v":100},{"t":214.1,"v":100},{"t":214.2,"v":89},{"t":214.4,"v":100},{"t":215.5,"v":100},{"t":215.6,"v":92},{"t":215.8,"v":100},{"t":216.8,"v":100},{"t":216.9,"v":90},{"t":217.1,"v":100},{"t":218.2,"v":100},{"t":218.3,"v":97},{"t":218.5,"v":100},{"t":219.5,"v":100},{"t":219.6,"v":93},{"t":219.8,"v":100},{"t":220.8,"v":100},{"t":220.9,"v":95},{"t":221.1,"v":100},{"t":222.2,"v":100},{"t":222.3,"v":88},{"t":222.5,"v":100},{"t":223.6,"v":100},{"t":223.7,"v":85},{"t":223.9,"v":100},{"t":225,"v":100},{"t":225.1,"v":92},{"t":225.3,"v":100},{"t":226.3,"v":100},{"t":226.4,"v":96},{"t":226.6,"v":100},{"t":227.7,"v":100},{"t":227.8,"v":88},{"t":228,"v":100},{"t":229,"v":100},{"t":229.1,"v":94},{"t":229.3,"v":100},{"t":230.4,"v":100},{"t":230.5,"v":97},{"t":230.7,"v":100},{"t":231.8,"v":100},{"t":231.9,"v":92},{"t":232.1,"v":100},{"t":233.1,"v":100},{"t":233.2,"v":95},{"t":233.4,"v":100},{"t":234.5,"v":100},{"t":234.6,"v":90},{"t":234.8,"v":100},{"t":235.9,"v":100},{"t":236,"v":96},{"t":236.2,"v":100},{"t":237.2,"v":100},{"t":237.3,"v":93},{"t":237.5,"v":100},{"t":238.6,"v":100},{"t":238.7,"v":86},{"t":238.9,"v":100},{"t":240,"v":100},{"t":240.1,"v":89},{"t":240.3,"v":100},{"t":241.3,"v":100},{"t":241.4,"v":95},{"t":241.6,"v":100},{"t":242.6,"v":100},{"t":242.7,"v":87},{"t":242.9,"v":100},{"t":244,"v":100},{"t":244.1,"v":92},{"t":244.3,"v":100},{"t":245.3,"v":100},{"t":245.4,"v":88},{"t":245.6,"v":100},{"t":246.6,"v":100},{"t":246.7,"v":96},{"t":246.9,"v":100},{"t":248,"v":100},{"t":248.1,"v":87},{"t":248.3,"v":100},{"t":249.3,"v":100},{"t":249.4,"v":93},{"t":249.6,"v":100},{"t":250,"v":99}],
 "rem200l": [{"t":200,"v":0},{"t":200.5,"v":81},{"t":201.3,"v":0},{"t":202.5,"v":115},{"t":203.8,"v":83},{"t":204.5,"v":0},{"t":205.5,"v":83},{"t":206.2,"v":0},{"t":207.5,"v":77},{"t":208.3,"v":0},{"t":209.5,"v":81},{"t":210.5,"v":26},{"t":211.7,"v":58},{"t":212.8,"v":86},{"t":213.8,"v":38},{"t":215,"v":71},{"t":216.2,"v":0},{"t":217.5,"v":71},{"t":218.7,"v":0},{"t":219.5,"v":73},{"t":220.8,"v":0},{"t":222.2,"v":77},{"t":222.8,"v":6},{"t":223.8,"v":81},{"t":225,"v":71},{"t":226.2,"v":0},{"t":227.5,"v":71},{"t":228.3,"v":6},{"t":229.5,"v":83},{"t":230.5,"v":112},{"t":231.7,"v":0},{"t":232.5,"v":90},{"t":233.8,"v":13},{"t":235,"v":58},{"t":236.2,"v":6},{"t":237.2,"v":83},{"t":238.3,"v":122},{"t":239.5,"v":0},{"t":240.5,"v":71},{"t":241.7,"v":0},{"t":242.8,"v":73},{"t":243.8,"v":6},{"t":245,"v":71},{"t":246.2,"v":0},{"t":247.5,"v":35},{"t":249.2,"v":38}],
 "rem200w": [
  {"f":"f3","t":200,"v":35},{"f":"f3","t":204,"v":45},{"f":"f3","t":204.1,"v":10},{"f":"f3","t":208,"v":25},{"f":"f3","t":212,"v":42},{"f":"f3","t":212.1,"v":5},{"f":"f3","t":216,"v":25},{"f":"f3","t":220,"v":40},{"f":"f3","t":224,"v":55},{"f":"f3","t":224.1,"v":20},{"f":"f3","t":228,"v":38},{"f":"f3","t":228.1,"v":8},{"f":"f3","t":232,"v":25},{"f":"f3","t":236,"v":45},{"f":"f3","t":236.1,"v":20},{"f":"f3","t":240,"v":35},{"f":"f3","t":240.1,"v":8},{"f":"f3","t":245,"v":25},{"f":"f3","t":245.1,"v":10},{"f":"f3","t":250,"v":30},
  {"f":"f5","t":200,"v":72},{"f":"f5","t":203,"v":78},{"f":"f5","t":205,"v":83},{"f":"f5","t":205.1,"v":25},{"f":"f5","t":208,"v":35},{"f":"f5","t":208.1,"v":15},{"f":"f5","t":212,"v":22},{"f":"f5","t":212.1,"v":10},{"f":"f5","t":216,"v":20},{"f":"f5","t":216.1,"v":8},{"f":"f5","t":220,"v":22},{"f":"f5","t":220.1,"v":10},{"f":"f5","t":225,"v":20},{"f":"f5","t":225.1,"v":8},{"f":"f5","t":230,"v":22},{"f":"f5","t":230.1,"v":10},{"f":"f5","t":235,"v":20},{"f":"f5","t":235.1,"v":8},{"f":"f5","t":240,"v":22},{"f":"f5","t":240.1,"v":10},{"f":"f5","t":245,"v":20},{"f":"f5","t":245.1,"v":8},{"f":"f5","t":250,"v":18},
  {"f":"f4","t":200,"v":74},{"f":"f4","t":203,"v":80},{"f":"f4","t":205,"v":89},{"f":"f4","t":205.1,"v":30},{"f":"f4","t":208,"v":45},{"f":"f4","t":211,"v":62},{"f":"f4","t":213,"v":68},{"f":"f4","t":213.1,"v":50},{"f":"f4","t":216,"v":58},{"f":"f4","t":220,"v":66},{"f":"f4","t":225,"v":76},{"f":"f4","t":230,"v":85},{"f":"f4","t":236.8,"v":94},{"f":"f4","t":236.9,"v":20},{"f":"f4","t":240,"v":30},{"f":"f4","t":240.1,"v":12},{"f":"f4","t":245,"v":25},{"f":"f4","t":245.1,"v":15},{"f":"f4","t":250,"v":35},
  {"f":"f7","t":200,"v":18},{"f":"f7","t":202,"v":30},{"f":"f7","t":202.1,"v":12},{"f":"f7","t":205,"v":25},{"f":"f7","t":205.1,"v":10},{"f":"f7","t":209,"v":22},{"f":"f7","t":209.1,"v":12},{"f":"f7","t":213,"v":25},{"f":"f7","t":213.1,"v":10},{"f":"f7","t":217,"v":28},{"f":"f7","t":217.1,"v":12},{"f":"f7","t":221,"v":30},{"f":"f7","t":221.1,"v":15},{"f":"f7","t":225,"v":25},{"f":"f7","t":225.1,"v":10},{"f":"f7","t":229,"v":30},{"f":"f7","t":229.1,"v":12},{"f":"f7","t":233,"v":28},{"f":"f7","t":236,"v":45},{"f":"f7","t":237,"v":65},{"f":"f7","t":237.1,"v":20},{"f":"f7","t":241,"v":35},{"f":"f7","t":241.1,"v":15},{"f":"f7","t":245,"v":30},{"f":"f7","t":245.1,"v":12},{"f":"f7","t":250,"v":38},
  {"f":"f8","t":200,"v":22},{"f":"f8","t":204,"v":35},{"f":"f8","t":204.1,"v":12},{"f":"f8","t":208,"v":30},{"f":"f8","t":208.1,"v":15},{"f":"f8","t":212,"v":28},{"f":"f8","t":212.1,"v":12},{"f":"f8","t":216,"v":32},{"f":"f8","t":216.1,"v":15},{"f":"f8","t":220,"v":35},{"f":"f8","t":220.1,"v":15},{"f":"f8","t":224,"v":30},{"f":"f8","t":224.1,"v":12},{"f":"f8","t":228,"v":35},{"f":"f8","t":228.1,"v":15},{"f":"f8","t":232,"v":30},{"f":"f8","t":232.1,"v":12},{"f":"f8","t":236,"v":35},{"f":"f8","t":236.1,"v":15},{"f":"f8","t":240,"v":38},{"f":"f8","t":240.1,"v":18},{"f":"f8","t":245,"v":32},{"f":"f8","t":245.1,"v":15},{"f":"f8","t":250,"v":28},
  {"f":"f6","t":200,"v":60},{"f":"f6","t":202,"v":62},{"f":"f6","t":202.1,"v":35},{"f":"f6","t":205,"v":48},{"f":"f6","t":208,"v":58},{"f":"f6","t":208.1,"v":40},{"f":"f6","t":211,"v":55},{"f":"f6","t":214,"v":62},{"f":"f6","t":214.1,"v":45},{"f":"f6","t":218,"v":58},{"f":"f6","t":220,"v":65},{"f":"f6","t":220.1,"v":50},{"f":"f6","t":223,"v":58},{"f":"f6","t":226,"v":68},{"f":"f6","t":226.1,"v":40},{"f":"f6","t":229,"v":58},{"f":"f6","t":232,"v":70},{"f":"f6","t":232.1,"v":35},{"f":"f6","t":235,"v":55},{"f":"f6","t":237,"v":65},{"f":"f6","t":237.1,"v":40},{"f":"f6","t":240,"v":60},{"f":"f6","t":242,"v":72},{"f":"f6","t":242.1,"v":55},{"f":"f6","t":246,"v":65},{"f":"f6","t":250,"v":70},
  {"f":"f9","t":200,"v":20},{"f":"f9","t":203,"v":30},{"f":"f9","t":203.1,"v":15},{"f":"f9","t":207,"v":28},{"f":"f9","t":207.1,"v":12},{"f":"f9","t":211,"v":30},{"f":"f9","t":214,"v":50},{"f":"f9","t":218,"v":65},{"f":"f9","t":222,"v":80},{"f":"f9","t":226,"v":90},{"f":"f9","t":229,"v":96},{"f":"f9","t":232.5,"v":101},{"f":"f9","t":232.6,"v":40},{"f":"f9","t":236,"v":50},{"f":"f9","t":236.1,"v":20},{"f":"f9","t":240,"v":35},{"f":"f9","t":240.1,"v":18},{"f":"f9","t":245,"v":35},{"f":"f9","t":245.1,"v":20},{"f":"f9","t":250,"v":45},
  {"f":"f1","t":200,"v":40},{"f":"f1","t":204,"v":55},{"f":"f1","t":204.1,"v":25},{"f":"f1","t":207,"v":42},{"f":"f1","t":210,"v":60},{"f":"f1","t":214,"v":66},{"f":"f1","t":218,"v":72},{"f":"f1","t":224,"v":85},{"f":"f1","t":230,"v":96},{"f":"f1","t":236.8,"v":105},{"f":"f1","t":236.9,"v":5},{"f":"f1","t":239,"v":25},{"f":"f1","t":242,"v":50},{"f":"f1","t":245,"v":65},{"f":"f1","t":250,"v":82},
  {"f":"f2","t":200,"v":28},{"f":"f2","t":204,"v":40},{"f":"f2","t":204.1,"v":18},{"f":"f2","t":208,"v":32},{"f":"f2","t":208.1,"v":15},{"f":"f2","t":212,"v":35},{"f":"f2","t":212.1,"v":20},{"f":"f2","t":216,"v":40},{"f":"f2","t":216.1,"v":18},{"f":"f2","t":220,"v":32},{"f":"f2","t":220.1,"v":15},{"f":"f2","t":224,"v":38},{"f":"f2","t":224.1,"v":18},{"f":"f2","t":228,"v":36},{"f":"f2","t":228.1,"v":20},{"f":"f2","t":232,"v":40},{"f":"f2","t":232.1,"v":18},{"f":"f2","t":236,"v":35},{"f":"f2","t":236.1,"v":20},{"f":"f2","t":240,"v":42},{"f":"f2","t":240.1,"v":22},{"f":"f2","t":245,"v":38},{"f":"f2","t":245.1,"v":20},{"f":"f2","t":250,"v":48},
  {"f":"f10","t":200,"v":25},{"f":"f10","t":203,"v":40},{"f":"f10","t":203.1,"v":18},{"f":"f10","t":206,"v":35},{"f":"f10","t":209,"v":52},{"f":"f10","t":212,"v":62},{"f":"f10","t":215,"v":68},{"f":"f10","t":220,"v":80},{"f":"f10","t":225,"v":90},{"f":"f10","t":230,"v":100},{"f":"f10","t":235,"v":109},{"f":"f10","t":235.1,"v":10},{"f":"f10","t":238,"v":30},{"f":"f10","t":241,"v":55},{"f":"f10","t":244,"v":68},{"f":"f10","t":247,"v":77},{"f":"f10","t":250,"v":85}
 ]
},
"hconcat": [
 {
  "title": {"text": "i) Drop-Tail", "orient": "bottom", "anchor": "start", "font": "DejaVu Serif", "fontSize": 21, "fontWeight": "bold", "color": "#222", "baseline": "top", "offset": -18, "dx": 46},
  "vconcat": [
   {
    "title": {"text": "Time (s)", "orient": "bottom", "fontSize": 14, "baseline": "top", "offset": 6, "dx": 7},
    "spacing": 6,
    "vconcat": [
     {
      "title": {"text": "Average Round\u2013trip Time = 10ms", "orient": "bottom", "fontSize": 18.4, "fontWeight": "normal", "baseline": "top", "offset": 1, "dx": 6},
      "spacing": 47, "bounds": "flush",
      "hconcat": [
       {"width": 107, "height": 139, "title": {"text": "Queue size (pkts)", "offset": 10, "baseline": "alphabetic"}, "data": {"name": "dt10q"}, "mark": {"type": "line", "color": "#e8242b", "clip": true}, "encoding": {"x": {"field": "t", "type": "quantitative", "scale": {"domain": [198, 252], "nice": false, "zero": false}, "axis": {"values": [200, 250], "title": null}}, "y": {"field": "v", "type": "quantitative", "scale": {"domain": [-4, 104], "nice": false, "zero": false}, "axis": {"values": [0, 50, 100], "title": null}}}},
       {"width": 107, "height": 139, "title": {"text": "Utilization (%)", "offset": 10, "baseline": "alphabetic"}, "data": {"name": "dt10u"}, "mark": {"type": "line", "color": "#e8242b", "strokeWidth": 1.5, "clip": true}, "encoding": {"x": {"field": "t", "type": "quantitative", "scale": {"domain": [198, 252], "nice": false, "zero": false}, "axis": {"values": [200, 250], "title": null}}, "y": {"field": "v", "type": "quantitative", "scale": {"domain": [-4, 104], "nice": false, "zero": false}, "axis": {"values": [0, 50, 100], "title": null}}}},
       {"width": 107, "height": 139, "title": {"text": "Window size (pkts)", "offset": 10, "baseline": "alphabetic"}, "data": {"name": "dt10w"}, "mark": {"type": "line", "clip": true}, "encoding": {"x": {"field": "t", "type": "quantitative", "scale": {"domain": [198, 252], "nice": false, "zero": false}, "axis": {"values": [200, 250], "title": null}}, "y": {"field": "v", "type": "quantitative", "scale": {"domain": [-8, 208], "nice": false, "zero": false}, "axis": {"values": [0, 100, 200], "title": null}}, "color": {"field": "f", "type": "nominal", "scale": {"domain": ["f7","f3","f4","f5","f6","f1","f8","f9","f10","f2"], "range": ["#111111","#9ecae9","#1f5fa8","#55b748","#8b1010","#ffa11f","#f3849c","#d4337d","#f2441d","#e31a1c"]}, "legend": null}}},
       {"width": 107, "height": 139, "title": {"text": "Loss (pkts/s)", "offset": 10, "baseline": "alphabetic"}, "data": {"name": "dt10l"}, "mark": {"type": "line", "color": "#e8242b", "clip": true}, "encoding": {"x": {"field": "t", "type": "quantitative", "scale": {"domain": [198, 252], "nice": false, "zero": false}, "axis": {"values": [200, 250], "title": null}}, "y": {"field": "v", "type": "quantitative", "scale": {"domain": [-20, 520], "nice": false, "zero": false}, "axis": {"values": [0, 250, 500], "title": null}}}}
      ]
     },
     {
      "title": {"text": "Average Round\u2013trip Time = 200ms", "orient": "bottom", "fontSize": 18.4, "fontWeight": "normal", "baseline": "top", "offset": 1, "dx": 6},
      "spacing": 47, "bounds": "flush",
      "hconcat": [
       {"width": 107, "height": 139, "data": {"name": "dt200q"}, "mark": {"type": "line", "color": "#e8242b", "clip": true}, "encoding": {"x": {"field": "t", "type": "quantitative", "scale": {"domain": [198, 252], "nice": false, "zero": false}, "axis": {"values": [200, 250], "title": null}}, "y": {"field": "v", "type": "quantitative", "scale": {"domain": [-4, 104], "nice": false, "zero": false}, "axis": {"values": [0, 50, 100], "title": null}}}},
       {"width": 107, "height": 139, "data": {"name": "dt200u"}, "mark": {"type": "line", "color": "#e8242b", "clip": true}, "encoding": {"x": {"field": "t", "type": "quantitative", "scale": {"domain": [198, 252], "nice": false, "zero": false}, "axis": {"values": [200, 250], "title": null}}, "y": {"field": "v", "type": "quantitative", "scale": {"domain": [-4, 104], "nice": false, "zero": false}, "axis": {"values": [0, 50, 100], "title": null}}}},
       {"width": 107, "height": 139, "data": {"name": "dt200w"}, "mark": {"type": "line", "clip": true}, "encoding": {"x": {"field": "t", "type": "quantitative", "scale": {"domain": [198, 252], "nice": false, "zero": false}, "axis": {"values": [200, 250], "title": null}}, "y": {"field": "v", "type": "quantitative", "scale": {"domain": [-8, 208], "nice": false, "zero": false}, "axis": {"values": [0, 100, 200], "title": null}}, "color": {"field": "f", "type": "nominal", "scale": {"domain": ["f7","f3","f4","f5","f6","f1","f8","f9","f10","f2"], "range": ["#111111","#9ecae9","#1f5fa8","#55b748","#8b1010","#ffa11f","#f3849c","#d4337d","#f2441d","#e31a1c"]}, "legend": null}}},
       {"width": 107, "height": 139, "data": {"name": "dt200l"}, "mark": {"type": "line", "color": "#e8242b", "clip": true}, "encoding": {"x": {"field": "t", "type": "quantitative", "scale": {"domain": [198, 252], "nice": false, "zero": false}, "axis": {"values": [200, 250], "title": null}}, "y": {"field": "v", "type": "quantitative", "scale": {"domain": [-20, 520], "nice": false, "zero": false}, "axis": {"values": [0, 250, 500], "title": null}}}}
      ]
     }
    ]
   }
  ]
 },
 {
  "title": {"text": "ii) REM", "orient": "bottom", "anchor": "start", "font": "DejaVu Serif", "fontSize": 21, "fontWeight": "bold", "color": "#222", "baseline": "top", "offset": -18, "dx": 47},
  "vconcat": [
   {
    "title": {"text": "Time (s)", "orient": "bottom", "fontSize": 14, "baseline": "top", "offset": 6, "dx": 7},
    "spacing": 6,
    "vconcat": [
     {
      "title": {"text": "Average Round\u2013trip Time = 10ms", "orient": "bottom", "fontSize": 18.4, "fontWeight": "normal", "baseline": "top", "offset": 1, "dx": 6},
      "spacing": 47, "bounds": "flush",
      "hconcat": [
       {"width": 107, "height": 139, "title": {"text": "Queue size (pkts)", "offset": 10, "baseline": "alphabetic"}, "data": {"name": "rem10q"}, "mark": {"type": "line", "color": "#e8242b", "clip": true}, "encoding": {"x": {"field": "t", "type": "quantitative", "scale": {"domain": [198, 252], "nice": false, "zero": false}, "axis": {"values": [200, 250], "title": null}}, "y": {"field": "v", "type": "quantitative", "scale": {"domain": [-4, 104], "nice": false, "zero": false}, "axis": {"values": [0, 50, 100], "title": null}}}},
       {"width": 107, "height": 139, "title": {"text": "Utilization (%)", "offset": 10, "baseline": "alphabetic"}, "data": {"name": "rem10u"}, "mark": {"type": "line", "color": "#e8242b", "strokeWidth": 1.5, "clip": true}, "encoding": {"x": {"field": "t", "type": "quantitative", "scale": {"domain": [198, 252], "nice": false, "zero": false}, "axis": {"values": [200, 250], "title": null}}, "y": {"field": "v", "type": "quantitative", "scale": {"domain": [-4, 104], "nice": false, "zero": false}, "axis": {"values": [0, 50, 100], "title": null}}}},
       {"width": 107, "height": 139, "title": {"text": "Window size (pkts)", "offset": 10, "baseline": "alphabetic"}, "data": {"name": "rem10w"}, "mark": {"type": "line", "clip": true}, "encoding": {"x": {"field": "t", "type": "quantitative", "scale": {"domain": [198, 252], "nice": false, "zero": false}, "axis": {"values": [200, 250], "title": null}}, "y": {"field": "v", "type": "quantitative", "scale": {"domain": [-8, 208], "nice": false, "zero": false}, "axis": {"values": [0, 100, 200], "title": null}}, "color": {"field": "f", "type": "nominal", "scale": {"domain": ["f7","f3","f4","f5","f6","f1","f8","f9","f10","f2"], "range": ["#111111","#9ecae9","#1f5fa8","#55b748","#8b1010","#ffa11f","#f3849c","#d4337d","#f2441d","#e31a1c"]}, "legend": null}}},
       {"width": 107, "height": 139, "title": {"text": "Loss (pkts/s)", "offset": 10, "baseline": "alphabetic"}, "data": {"name": "rem10l"}, "mark": {"type": "line", "color": "#e8242b", "clip": true}, "encoding": {"x": {"field": "t", "type": "quantitative", "scale": {"domain": [198, 252], "nice": false, "zero": false}, "axis": {"values": [200, 250], "title": null}}, "y": {"field": "v", "type": "quantitative", "scale": {"domain": [-20, 520], "nice": false, "zero": false}, "axis": {"values": [0, 250, 500], "title": null}}}}
      ]
     },
     {
      "title": {"text": "Average Round\u2013trip Time = 200ms", "orient": "bottom", "fontSize": 18.4, "fontWeight": "normal", "baseline": "top", "offset": 1, "dx": 6},
      "spacing": 47, "bounds": "flush",
      "hconcat": [
       {"width": 107, "height": 139, "data": {"name": "rem200q"}, "mark": {"type": "line", "color": "#e8242b", "clip": true}, "encoding": {"x": {"field": "t", "type": "quantitative", "scale": {"domain": [198, 252], "nice": false, "zero": false}, "axis": {"values": [200, 250], "title": null}}, "y": {"field": "v", "type": "quantitative", "scale": {"domain": [-4, 104], "nice": false, "zero": false}, "axis": {"values": [0, 50, 100], "title": null}}}},
       {"width": 107, "height": 139, "data": {"name": "rem200u"}, "mark": {"type": "line", "color": "#e8242b", "clip": true}, "encoding": {"x": {"field": "t", "type": "quantitative", "scale": {"domain": [198, 252], "nice": false, "zero": false}, "axis": {"values": [200, 250], "title": null}}, "y": {"field": "v", "type": "quantitative", "scale": {"domain": [-4, 104], "nice": false, "zero": false}, "axis": {"values": [0, 50, 100], "title": null}}}},
       {"width": 107, "height": 139, "data": {"name": "rem200w"}, "mark": {"type": "line", "clip": true}, "encoding": {"x": {"field": "t", "type": "quantitative", "scale": {"domain": [198, 252], "nice": false, "zero": false}, "axis": {"values": [200, 250], "title": null}}, "y": {"field": "v", "type": "quantitative", "scale": {"domain": [-8, 208], "nice": false, "zero": false}, "axis": {"values": [0, 100, 200], "title": null}}, "color": {"field": "f", "type": "nominal", "scale": {"domain": ["f7","f3","f4","f5","f6","f1","f8","f9","f10","f2"], "range": ["#111111","#9ecae9","#1f5fa8","#55b748","#8b1010","#ffa11f","#f3849c","#d4337d","#f2441d","#e31a1c"]}, "legend": null}}},
       {"width": 107, "height": 139, "data": {"name": "rem200l"}, "mark": {"type": "line", "color": "#e8242b", "clip": true}, "encoding": {"x": {"field": "t", "type": "quantitative", "scale": {"domain": [198, 252], "nice": false, "zero": false}, "axis": {"values": [200, 250], "title": null}}, "y": {"field": "v", "type": "quantitative", "scale": {"domain": [-20, 520], "nice": false, "zero": false}, "axis": {"values": [0, 250, 500], "title": null}}}}
      ]
     }
    ]
   }
  ]
 }
],
"spacing": 81
}
